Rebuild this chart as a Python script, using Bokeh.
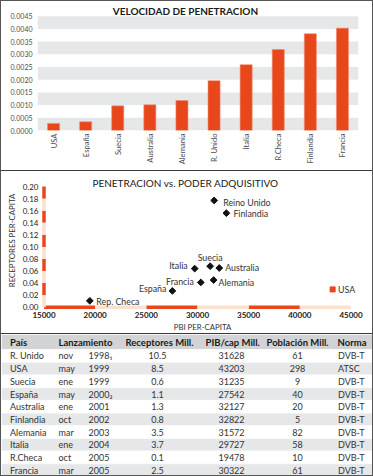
import numpy as np
from bokeh.plotting import figure
from bokeh.layouts import column
from bokeh.models import Range1d, FactorRange, BoxAnnotation, FixedTicker, PrintfTickFormatter
from bokeh.core.properties import value
from bokeh.embed import file_html
from bokeh.resources import INLINE

# ---------------- data ----------------
bar_title = "VELOCIDAD DE PENETRACION"
bar_countries = ["USA", "España", "Suecia", "Australia", "Alemania", "R. Unido",
                 "Italia", "R.Checa", "Finlandia", "Francia"]
bar_values = [0.00028, 0.00034, 0.00097, 0.00101, 0.00118, 0.00196,
              0.00259, 0.00319, 0.00381, 0.00403]
bar_ticks = [0.0, 0.0005, 0.0010, 0.0015, 0.0020, 0.0025, 0.0030, 0.0035, 0.0040, 0.0045]

sc_title = "PENETRACION vs. PODER ADQUISITIVO"
sc_names = ["Reino Unido", "Finlandia", "Suecia", "Italia", "Australia",
            "Francia", "Alemania", "España", "Rep. Checa"]
sc_pbi = [31628, 32822, 31235, 29727, 32127, 30322, 31572, 27542, 19478]
sc_rec = [0.177, 0.156, 0.068, 0.064, 0.065, 0.041, 0.045, 0.027, 0.0105]
usa_name = ["USA"]
usa_pbi = [43203]
usa_rec = [0.0295]
x_ticks = [15000, 20000, 25000, 30000, 35000, 40000, 45000]
y_ticks = [0.0, 0.02, 0.04, 0.06, 0.08, 0.10, 0.12, 0.14, 0.16, 0.18, 0.20]

tbl_header = ["País", "Lanzamiento", "Receptores Mill.", "PIB/cap Mill.", "Población Mill.", "Norma"]
tbl_pais = ["R. Unido", "USA", "Suecia", "España", "Australia", "Finlandia",
            "Alemania", "Italia", "R.Checa", "Francia"]
tbl_mes = ["nov", "may", "ene", "may", "ene", "oct", "mar", "ene", "oct", "mar"]
tbl_anio = ["1998₁", "1999", "1999", "2000₂", "2001", "2002", "2003", "2004", "2005", "2005"]
tbl_receptores = ["10.5", "8.5", "0.6", "1.1", "1.3", "0.8", "3.5", "3.7", "0.1", "2.5"]
tbl_pib = ["31628", "43203", "31235", "27542", "32127", "32822", "31572", "29727", "19478", "30322"]
tbl_poblacion = ["61", "298", "9", "40", "20", "5", "82", "58", "10", "61"]
tbl_norma = ["DVB-T", "ATSC", "DVB-T", "DVB-T", "DVB-T", "DVB-T", "DVB-T", "DVB-T", "DVB-T", "DVB-T"]

# ---------------- styles ----------------
ORANGE = "#e8471c"
PEACH = "#fbe1cf"
BAND = "#e6e7e8"
HEAD = "#d1d3d4"
FONT = "Lato"
W = 371


def plain_axis(ax):
    ax.axis_line_color = None
    ax.major_tick_line_color = None
    ax.minor_tick_line_color = None
    ax.major_tick_out = 0
    ax.major_tick_in = 0
    ax.minor_tick_out = 0
    ax.minor_tick_in = 0
    ax.major_label_text_font = FONT


# ---------------- bar chart ----------------
FH1 = 129
TOP1 = 14.7  # px between frame top and highest tick
y1_end = bar_ticks[-1] * FH1 / (FH1 - TOP1)
p1 = figure(frame_width=321, frame_height=FH1, x_range=FactorRange(*bar_countries),
            y_range=Range1d(0, y1_end), output_backend="svg", title=None,
            toolbar_location=None, min_border_left=36, min_border_right=14,
            min_border_top=0, min_border_bottom=40, frame_align=False)
p1.grid.visible = False
p1.outline_line_color = None

for b, t in zip(bar_ticks[0::2], bar_ticks[1::2]):
    p1.add_layout(BoxAnnotation(bottom=b, top=t, fill_color=BAND, fill_alpha=1,
                                line_color=None, level="underlay"))

p1.vbar(x=bar_countries, top=bar_values, width=0.375, fill_color=ORANGE,
        line_color="#f08a66", line_width=0.6)

p1.text(x=[bar_countries[4]], y=[bar_ticks[-1]], text=[bar_title], x_offset=3.5, y_offset=-5.5,
        text_align="center", text_baseline="middle", text_font=value(FONT),
        text_font_size="10px", text_font_style="bold", text_color="#1a1a1a")

p1.yaxis.ticker = FixedTicker(ticks=bar_ticks)
p1.yaxis.formatter = PrintfTickFormatter(format="%.4f")
for ax in (p1.xaxis[0], p1.yaxis[0]):
    plain_axis(ax)
    ax.major_label_text_color = "#4d4d4d"
p1.yaxis.major_label_text_font_size = "7px"
p1.xaxis.major_label_text_font_size = "7.6px"
p1.yaxis.major_label_standoff = 5
p1.xaxis.major_label_standoff = 3
p1.xaxis.major_label_orientation = np.pi / 2

# ---------------- scatter ----------------
FH2 = 137
PX_PER_Y = 598.5   # frame pixels per unit on the y axis
PX_PER_X = 0.010233
x2_start = x_ticks[0] - 2.5 / PX_PER_X
x2_end = x_ticks[-1] + 12.5 / PX_PER_X
y2_end = y_ticks[-1] + 15 / PX_PER_Y
y2_start = y2_end - FH2 / PX_PER_Y
p2 = figure(frame_width=322, frame_height=FH2, x_range=Range1d(x2_start, x2_end),
            y_range=Range1d(y2_start, y2_end), output_backend="svg", title=None,
            toolbar_location=None, min_border_left=40, min_border_right=9,
            min_border_top=0, min_border_bottom=24, frame_align=False,
            styles={"border-top": "1px solid #3a3a3a"})
p2.grid.visible = False
p2.outline_line_color = None

p2.text(x=[x_ticks[3]], y=[y_ticks[-1]], text=[sc_title], x_offset=-12, y_offset=-4,
        text_align="center", text_baseline="middle", text_font=value(FONT),
        text_font_size="10px", text_color="#1a1a1a")

# styled axis bars
p2.segment(x0=x_ticks[0::2], y0=0, x1=x_ticks[1::2], y1=0, line_color=ORANGE, line_width=3.5)
p2.segment(x0=x_ticks[1::2], y0=0, x1=x_ticks[2::2], y1=0, line_color=PEACH, line_width=3.5)
p2.segment(x0=x_ticks[0], y0=y_ticks[1::2], x1=x_ticks[0], y1=y_ticks[2::2], line_color=ORANGE, line_width=3.5)
p2.segment(x0=x_ticks[0], y0=y_ticks[0::2][:-1], x1=x_ticks[0], y1=y_ticks[1::2], line_color=PEACH, line_width=3.5)

p2.scatter(sc_pbi, sc_rec, marker="square", angle=np.pi / 4, size=4.8, color="#111111")
p2.scatter(usa_pbi, usa_rec, marker="square", size=5, color=ORANGE)

lbl_dx = [9, 7, 0, -7, 6, -7, 5, -6, 6.5]
lbl_dy = [2, 0, -9, -3, 0, -1, 2, -2, 1]
lbl_align = ["left", "left", "center", "right", "left", "right", "left", "right", "left"]
p2.text(x=sc_pbi, y=sc_rec, text=sc_names, x_offset=lbl_dx, y_offset=lbl_dy,
        text_align=lbl_align, text_baseline="middle", text_font=value(FONT),
        text_font_size="8.8px", text_color="#333333")
p2.text(x=usa_pbi, y=usa_rec, text=usa_name, x_offset=5.5, y_offset=0,
        text_align="left", text_baseline="middle", text_font=value(FONT),
        text_font_size="8.8px", text_color="#333333")

p2.xaxis.ticker = FixedTicker(ticks=x_ticks)
p2.xaxis.formatter = PrintfTickFormatter(format="%d")
p2.yaxis.ticker = FixedTicker(ticks=y_ticks)
p2.yaxis.formatter = PrintfTickFormatter(format="%.2f")
p2.xaxis.axis_label = "PBI PER-CAPITA"
p2.yaxis.axis_label = "RECEPTORES PER-CAPITA"
for ax in (p2.xaxis[0], p2.yaxis[0]):
    plain_axis(ax)
    ax.major_label_text_font_size = "8px"
    ax.major_label_text_color = "#222222"
    ax.axis_label_text_font = FONT
    ax.axis_label_text_font_size = "7.8px"
    ax.axis_label_text_font_style = "normal"
    ax.axis_label_text_color = "#333333"
p2.xaxis.major_label_text_font_style = "bold"
p2.xaxis.major_label_standoff = 2
p2.xaxis.axis_label_standoff = 1
p2.yaxis.major_label_standoff = 3
p2.yaxis.axis_label_standoff = 3

# ---------------- table ----------------
TH = 141
p3 = figure(frame_width=W, frame_height=TH, x_range=Range1d(0, W), y_range=Range1d(TH, 0),
            output_backend="svg", toolbar_location=None, min_border=0, title=None,
            x_axis_type=None, y_axis_type=None, frame_align=False,
            styles={"border-top": "1px solid #3a3a3a"})
p3.grid.visible = False
p3.outline_line_color = None

header_h = 15
row_h = (TH - header_h) / len(tbl_pais)
row_top = [header_h + i * row_h for i in range(len(tbl_pais))]
row_mid = [t + row_h / 2 for t in row_top]
row_fill = ["white" if i % 2 == 0 else BAND for i in range(len(tbl_pais))]

p3.quad(left=0, right=W, top=0, bottom=header_h, fill_color=HEAD, line_color=None)
p3.quad(left=0, right=W, top=row_top, bottom=[t + row_h for t in row_top],
        fill_color=row_fill, line_color="white", line_width=0.6)

head_x = [8.5, 57, 124, 204, 265, 336]
head_mid = [header_h / 2] * len(tbl_header)
p3.text(x=head_x, y=head_mid, text=tbl_header, text_align="left", text_baseline="middle",
        text_font=value(FONT), text_font_size="9.5px", text_font_style="bold",
        text_color="#1a1a1a")

cols = [(tbl_pais, 8.5, "left"), (tbl_mes, 57, "left"), (tbl_anio, 87, "left"),
        (tbl_receptores, 156, "center"), (tbl_pib, 230, "center"),
        (tbl_poblacion, 296, "center"), (tbl_norma, 336.5, "left")]
for vals, cx, al in cols:
    p3.text(x=[cx] * len(vals), y=row_mid, text=vals, text_align=al,
            text_baseline="middle", text_font=value(FONT), text_font_size="9px",
            text_color="#333333")

layout = column(p1, p2, p3, spacing=0, styles={"border": "1px solid #555555"})

open("out.html", "w").write(file_html(layout, INLINE))
